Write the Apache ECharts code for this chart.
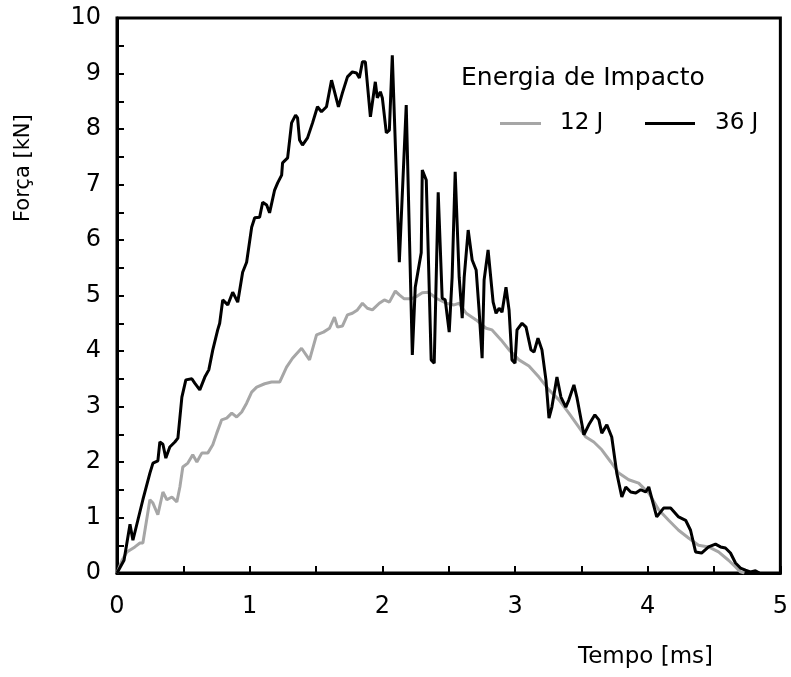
<!DOCTYPE html>
<html>
<head>
<meta charset="utf-8">
<script src="https://cdn.jsdelivr.net/npm/echarts@6/dist/echarts.min.js"></script>
<style>html,body{margin:0;padding:0;background:#fff;}#c{width:791px;height:677px;}</style>
</head>
<body>
<div id="c"></div>
<script>
// Tempo [ms] and Força [kN], 36 J impact
var time36 = [0,0.053,0.098,0.120,0.195,0.248,0.271,0.308,0.323,0.346,0.368,0.398,0.436,0.459,0.489,0.519,0.564,0.586,0.624,0.662,0.692,0.722,0.759,0.774,0.797,0.835,0.872,0.910,0.947,0.977,1.015,1.038,1.075,1.098,1.128,1.150,1.188,1.211,1.241,1.248,1.286,1.316,1.346,1.361,1.376,1.398,1.436,1.474,1.511,1.541,1.579,1.617,1.669,1.699,1.737,1.774,1.805,1.827,1.850,1.872,1.910,1.947,1.962,1.985,2.000,2.030,2.053,2.075,2.128,2.180,2.226,2.248,2.293,2.301,2.331,2.368,2.391,2.421,2.451,2.474,2.504,2.526,2.549,2.579,2.602,2.617,2.647,2.677,2.707,2.729,2.752,2.767,2.797,2.835,2.857,2.880,2.902,2.932,2.955,2.977,3.000,3.015,3.053,3.083,3.120,3.143,3.173,3.203,3.233,3.256,3.278,3.316,3.346,3.383,3.406,3.444,3.466,3.519,3.556,3.602,3.632,3.654,3.692,3.729,3.767,3.805,3.835,3.872,3.910,3.947,3.985,4.008,4.068,4.120,4.173,4.233,4.286,4.323,4.361,4.406,4.459,4.511,4.549,4.586,4.624,4.662,4.699,4.737,4.774,4.812,4.842];
var force36 = [0,0.23,0.88,0.59,1.32,1.80,1.98,2.02,2.36,2.32,2.07,2.27,2.36,2.43,3.17,3.48,3.50,3.42,3.30,3.53,3.66,4.02,4.38,4.50,4.92,4.83,5.06,4.88,5.42,5.60,6.23,6.40,6.41,6.68,6.63,6.49,6.90,7.03,7.17,7.39,7.48,8.11,8.25,8.20,7.80,7.71,7.84,8.11,8.40,8.31,8.40,8.88,8.40,8.65,8.94,9.03,9.01,8.92,9.21,9.21,8.22,8.85,8.56,8.67,8.56,7.93,7.98,9.33,5.60,8.43,3.93,5.15,5.77,7.26,7.08,3.84,3.78,6.86,4.95,4.92,4.34,5.33,7.23,5.33,4.59,5.33,6.18,5.64,5.46,4.74,3.87,5.28,5.82,4.88,4.68,4.77,4.70,5.15,4.74,3.84,3.78,4.38,4.50,4.43,4.02,3.98,4.23,4.02,3.48,2.79,2.99,3.53,3.17,2.99,3.12,3.39,3.17,2.49,2.67,2.85,2.76,2.52,2.67,2.45,1.80,1.37,1.55,1.46,1.44,1.50,1.46,1.55,1.01,1.17,1.17,1.01,0.95,0.77,0.38,0.36,0.47,0.52,0.47,0.45,0.36,0.18,0.09,0.05,0.02,0.04,0];
// 12 J impact
var time12 = [0,0.038,0.075,0.135,0.173,0.195,0.248,0.271,0.308,0.346,0.376,0.414,0.451,0.474,0.496,0.534,0.571,0.602,0.639,0.684,0.722,0.752,0.789,0.827,0.865,0.902,0.940,0.977,1.015,1.053,1.113,1.165,1.226,1.278,1.323,1.391,1.451,1.504,1.556,1.602,1.639,1.662,1.699,1.737,1.774,1.812,1.850,1.887,1.925,1.977,2.015,2.053,2.098,2.128,2.165,2.218,2.263,2.301,2.346,2.406,2.481,2.541,2.579,2.632,2.707,2.782,2.827,2.895,2.955,3.030,3.105,3.180,3.256,3.331,3.406,3.481,3.534,3.594,3.654,3.722,3.782,3.857,3.932,4.008,4.083,4.158,4.233,4.308,4.383,4.459,4.534,4.609,4.662,4.699,4.729];
var force12 = [0,0.23,0.38,0.47,0.54,0.54,1.32,1.26,1.05,1.46,1.32,1.37,1.28,1.55,1.91,1.98,2.13,2.00,2.16,2.16,2.31,2.52,2.76,2.79,2.88,2.81,2.90,3.06,3.26,3.35,3.41,3.44,3.44,3.71,3.87,4.05,3.84,4.29,4.34,4.41,4.61,4.43,4.45,4.65,4.68,4.74,4.86,4.77,4.74,4.86,4.92,4.88,5.08,5.01,4.94,4.94,4.99,5.05,5.06,4.95,4.86,4.83,4.86,4.68,4.56,4.41,4.38,4.20,4.02,3.84,3.73,3.53,3.30,3.12,2.88,2.63,2.45,2.36,2.22,2.00,1.80,1.68,1.62,1.44,1.14,0.95,0.77,0.63,0.50,0.47,0.38,0.23,0.11,0.02,0];
var seriesNames = ['12 J','36 J'];
var xTicks = [0,1,2,3,4,5];

function zip(a,b){return a.map(function(v,i){return [v,b[i]];});}
var FONT = 'DejaVu Sans';
var chart = echarts.init(document.getElementById('c'), null, {renderer:'canvas'});
chart.setOption({
  animation:false,
  backgroundColor:'#fff',
  grid:{left:117,top:18,right:9,bottom:104,show:true,borderColor:'#000',borderWidth:3,backgroundColor:'transparent'},
  title:{text:'Energia de Impacto',left:461,top:66,padding:0,textStyle:{fontFamily:FONT,fontSize:25,fontWeight:'normal',color:'#000'}},
  legend:[
    {data:[seriesNames[0]],icon:'rect',left:500,top:112,padding:0,itemWidth:41,itemHeight:3,textStyle:{fontFamily:FONT,fontSize:23,color:'#000',padding:[0,0,0,14]}},
    {data:[seriesNames[1]],icon:'rect',left:645,top:112,padding:0,itemWidth:50,itemHeight:3,textStyle:{fontFamily:FONT,fontSize:23,color:'#000',padding:[0,0,0,15]}}
  ],
  xAxis:{type:'value',min:0,max:5,interval:0.5,
    axisLine:{show:true,lineStyle:{color:'#000',width:3}},
    axisTick:{show:true,inside:true,length:7,lineStyle:{color:'#000',width:2}},
    axisLabel:{margin:22,fontFamily:FONT,fontSize:24,color:'#000',formatter:function(v){return xTicks.indexOf(v)>=0?String(v):'';}},
    splitLine:{show:false}},
  yAxis:{type:'value',min:0,max:10,interval:0.5,
    axisLine:{show:true,lineStyle:{color:'#000',width:3}},
    axisTick:{show:true,inside:true,length:7,lineStyle:{color:'#000',width:2}},
    axisLabel:{margin:16,fontFamily:FONT,fontSize:24,color:'#000',formatter:function(v){return v%1===0?String(v):'';}},
    splitLine:{show:false}},
  graphic:[
    {type:'text',left:578,top:646,style:{text:'Tempo [ms]',font:'23px "DejaVu Sans"',fill:'#000'}},
    {type:'text',x:13,y:222,rotation:Math.PI/2,style:{text:'Força [kN]',font:'21px "DejaVu Sans"',fill:'#000'}}
  ],
  series:[
    {name:seriesNames[0],type:'line',data:zip(time12,force12),symbol:'none',smooth:false,lineStyle:{color:'#a6a6a6',width:3},itemStyle:{color:'#a6a6a6'},z:2},
    {name:seriesNames[1],type:'line',data:zip(time36,force36),symbol:'none',smooth:false,lineStyle:{color:'#000',width:3},itemStyle:{color:'#000'},z:3}
  ]
});
</script>
</body>
</html>
